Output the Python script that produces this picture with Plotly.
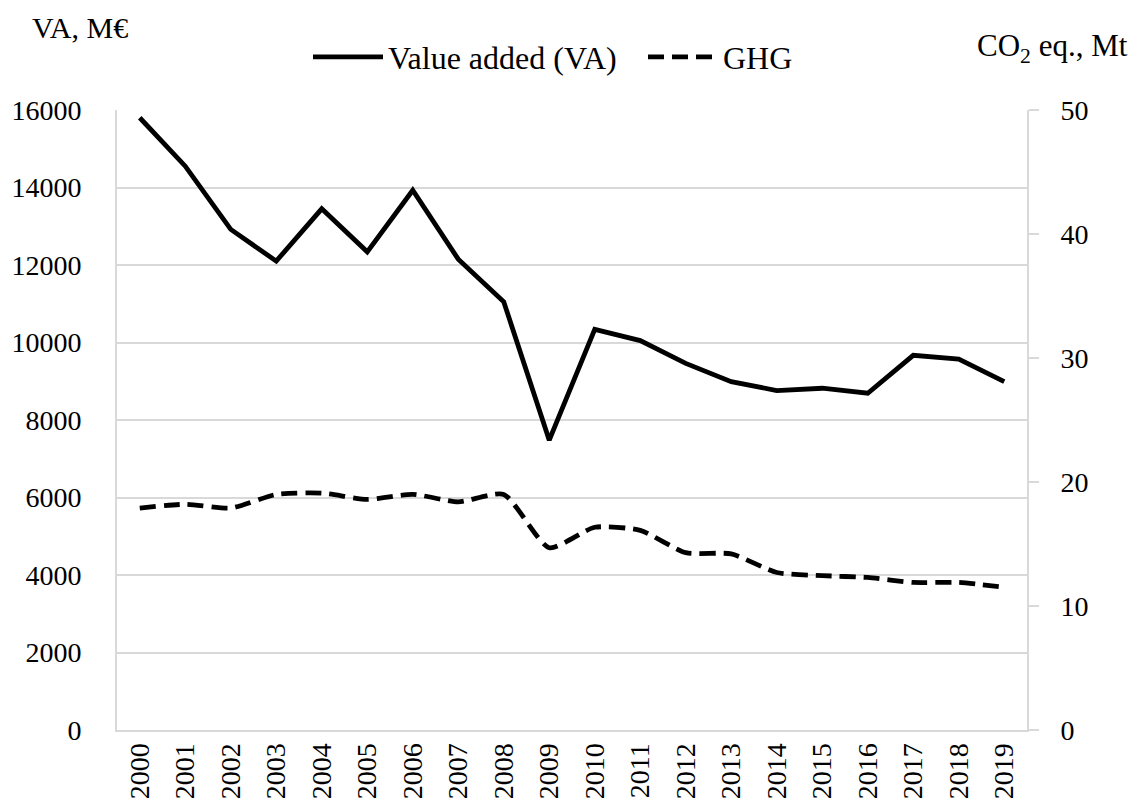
import plotly.graph_objects as go

years = [str(y) for y in range(2000, 2020)]
va = [15800, 14550, 12920, 12100, 13450, 12340, 13930, 12150, 11050, 7480,
      10340, 10050, 9460, 8990, 8760, 8820, 8690, 9670, 9570, 8990]
ghg = [17.9, 18.2, 17.9, 19.0, 19.1, 18.6, 19.0, 18.4, 19.0, 14.7,
       16.35, 16.1, 14.3, 14.2, 12.7, 12.45, 12.3, 11.9, 11.9, 11.5]

left_ticks = list(range(0, 16001, 2000))
left_text = [str(v) for v in left_ticks]
right_ticks = list(range(0, 51, 10))
right_text = [str(v) for v in right_ticks]

FONT = "Liberation Serif, Times New Roman, serif"
GRID = "#d9d9d9"
PW, PH = 910, 620  # plot area size in px

fig = go.Figure()
fig.add_trace(go.Scatter(x=years, y=va, name="Value added (VA)", mode="lines",
                         line=dict(color="black", width=4.8)))
fig.add_trace(go.Scatter(x=years, y=ghg, name="GHG", mode="lines", yaxis="y2",
                         line=dict(color="black", width=4.8, dash="16px,8px",
                                   shape="spline", smoothing=0.6)))

fig.update_layout(
    width=1142, height=809,
    margin=dict(l=109, r=123, t=102, b=87, autoexpand=False),
    paper_bgcolor="white", plot_bgcolor="white",
    font=dict(family=FONT, size=28, color="black"),
    showlegend=True,
    legend=dict(orientation="h", x=(308 - 117) / PW, xanchor="left",
                y=1 + (110 - 57) / PH, yanchor="middle",
                font=dict(size=32), itemwidth=70, bgcolor="rgba(0,0,0,0)",
                entrywidth=250, entrywidthmode="pixels"),
    xaxis=dict(type="category", tickangle=-90, showgrid=False, range=[-0.5, 19.5],
               showline=True, linecolor=GRID, linewidth=2, ticks="",
               tickfont=dict(size=28)),
    yaxis=dict(range=[0, 16000], tickvals=left_ticks, ticktext=left_text,
               showgrid=True, gridcolor=GRID, gridwidth=2,
               showline=True, linecolor=GRID, linewidth=2, ticks="", zeroline=False,
               ticklabelstandoff=28, tickfont=dict(size=28)),
    yaxis2=dict(range=[0, 50], tickvals=right_ticks, ticktext=right_text,
                overlaying="y", side="right",
                showgrid=False, showline=True, linecolor=GRID, linewidth=2,
                ticks="outside", ticklen=10, tickcolor=GRID, tickwidth=2, zeroline=False,
                ticklabelstandoff=16, tickfont=dict(size=28)),
    annotations=[
        dict(text="VA, M€", xref="paper", yref="paper", x=(30 - 117) / PW,
             y=1 + (110 - 27) / PH, xanchor="left", yanchor="middle",
             showarrow=False, font=dict(size=30)),
        dict(text="CO<sub>2</sub> eq., Mt", xref="paper", yref="paper",
             x=(975 - 117) / PW, y=1 + (110 - 48) / PH, xanchor="left",
             yanchor="middle", showarrow=False, font=dict(size=31)),
    ],
)

fig.write_html("out.html")
